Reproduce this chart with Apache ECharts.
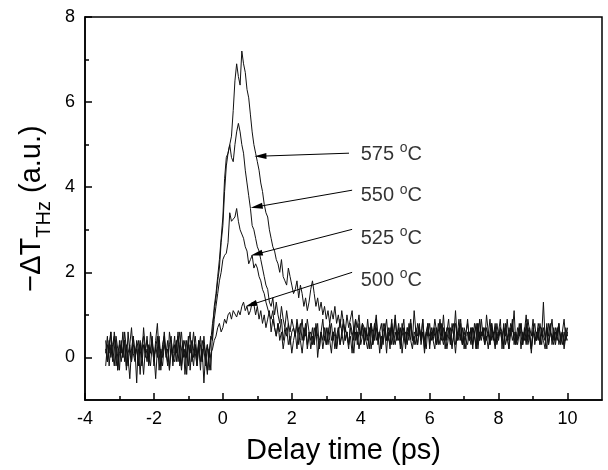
<!DOCTYPE html>
<html>
<head>
<meta charset="utf-8">
<script src="https://cdn.jsdelivr.net/npm/echarts@6/dist/echarts.min.js"></script>
<style>
    html, body { margin: 0; padding: 0; background: #fff; }
    #thz-chart { width: 608px; height: 470px; }
</style>
</head>
<body>
<div id="thz-chart"></div>
<script>
// 时间轴：-3.4 ps 起，步长 0.05 ps（共 269 点，每行 0.5 ps）
var t0 = -3.4, dt = 0.05;

// 各温度下的 -ΔT_THz (a.u.)，从图上读出的估计值
var s575 = [
    0.4,-0.1,0.3,0.6,0.1,-0.2,0.5,0.2,-0.3,0.4,
    0.0,0.6,0.2,-0.2,0.3,0.7,0.1,-0.1,0.4,0.2,
    -0.4,0.3,0.5,0.0,0.2,-0.2,0.6,0.3,-0.1,0.4,
    0.8,0.1,-0.2,0.3,0.5,0.0,0.2,-0.3,0.4,0.1,
    0.5,-0.1,0.3,0.6,-0.2,0.2,0.4,0.0,0.5,-0.3,
    0.2,0.6,0.1,-0.2,0.4,0.3,-0.1,0.5,0.0,-0.4,
    0.2,-0.3,0.6,1.2,1.5,1.9,2.3,2.8,3.3,4.2,
    4.7,4.8,5.0,5.2,5.8,6.5,6.9,6.6,6.4,7.2,
    6.9,6.7,6.3,6.1,5.7,5.3,5.0,4.8,4.6,4.4,
    4.1,3.9,3.6,3.4,3.3,3.0,2.8,2.6,2.5,2.3,
    2.2,2.0,2.3,1.9,1.8,1.7,2.1,1.9,1.7,1.5,
    1.6,1.8,1.4,1.7,1.5,1.2,1.4,1.1,1.3,1.6,
    1.8,1.5,1.2,1.4,1.1,1.3,1.0,1.2,0.9,1.1,
    0.8,1.1,0.9,1.2,0.8,1.0,0.7,1.1,0.8,0.6,
    1.0,0.7,0.9,1.1,0.6,0.9,0.7,1.0,0.5,0.8,
    0.7,0.4,0.9,0.5,0.8,0.3,0.7,1.0,0.5,0.6,
    0.2,0.8,0.6,0.9,0.4,0.7,0.3,0.6,1.0,0.5,
    0.8,0.4,0.6,0.9,0.3,0.7,0.5,0.8,0.4,1.1,
    0.6,0.3,0.7,0.5,0.9,0.4,0.6,0.8,0.2,0.7,
    0.5,0.9,0.6,0.3,0.8,0.5,1.0,0.4,0.7,0.6,
    0.3,0.8,0.5,1.1,0.4,0.6,0.9,0.3,0.7,0.5,
    0.9,0.4,0.7,0.2,0.8,0.6,0.3,0.9,0.5,0.7,
    0.4,1.0,0.6,0.3,0.7,0.5,0.8,0.4,0.6,0.9,
    0.2,0.7,0.5,0.9,0.4,0.8,0.6,1.1,0.3,0.7,
    0.5,0.8,0.3,0.6,1.0,0.4,0.7,0.5,0.9,0.3,
    0.6,0.4,0.8,0.5,1.3,0.4,0.7,0.3,0.6,0.9,
    0.4,0.7,0.5,0.8,0.3,0.6,0.9,0.4,0.6
];
var s550 = [
    0.1,0.5,-0.2,0.3,0.0,0.6,0.2,-0.3,0.4,0.1,
    0.6,-0.1,0.3,0.0,-0.5,0.2,0.5,0.1,0.3,-0.2,
    0.4,0.0,0.7,0.2,-0.1,0.3,0.1,0.5,-0.2,0.3,
    0.0,0.4,-0.3,0.2,0.6,0.1,-0.1,0.3,0.5,-0.2,
    0.3,0.1,0.6,-0.2,0.2,0.4,-0.4,0.1,0.3,0.6,
    -0.1,0.2,0.5,0.0,0.3,-0.3,0.4,0.2,-0.2,0.3,
    0.0,0.4,0.8,1.1,1.4,1.8,2.1,2.7,3.1,3.9,
    4.5,4.8,5.0,4.7,4.6,5.0,5.3,5.5,5.3,5.0,
    4.8,4.4,4.1,3.8,3.5,3.1,3.0,2.8,2.6,2.5,
    2.3,2.1,1.9,1.7,1.6,1.3,1.2,1.4,1.0,1.3,
    1.0,0.8,1.2,0.9,0.7,1.1,0.8,0.6,0.9,0.7,
    0.5,0.9,0.6,0.8,0.4,0.7,0.5,0.9,0.6,0.4,
    0.7,0.3,0.8,0.5,0.2,0.6,0.9,0.4,0.7,0.3,
    0.6,0.8,0.4,0.7,0.2,0.5,0.9,0.6,0.3,0.7,
    0.5,0.2,0.8,0.6,0.4,0.9,0.3,0.6,0.5,0.8,
    0.3,0.7,0.5,0.2,0.8,0.6,0.4,0.9,0.3,0.6,
    0.8,0.4,0.6,0.1,0.7,0.5,0.9,0.3,0.6,0.4,
    0.7,0.2,0.8,0.5,0.3,0.7,0.6,0.9,0.4,0.5,
    0.3,0.8,0.6,0.4,0.9,0.2,0.6,0.5,0.8,0.4,
    0.7,0.5,0.3,0.8,0.6,0.4,0.7,0.2,0.6,0.9,
    0.4,0.6,0.8,0.3,0.5,0.9,0.4,0.7,0.2,0.6,
    0.8,0.5,0.3,0.7,0.6,0.2,0.8,0.4,0.9,0.5,
    0.3,0.7,0.5,0.9,0.4,0.6,0.3,0.8,0.5,0.7,
    0.6,0.2,0.8,0.4,0.7,0.5,0.9,0.3,0.6,0.4,
    0.8,0.5,0.3,0.7,0.4,0.9,0.6,0.2,0.7,0.5,
    0.4,0.8,0.6,0.3,0.7,0.5,0.2,0.8,0.6,0.4,
    0.7,0.3,0.6,0.8,0.4,0.6,0.3,0.7,0.5
];
var s525 = [
    -0.2,0.3,0.1,0.6,-0.1,0.2,0.4,-0.3,0.1,0.3,
    0.0,0.4,-0.2,0.6,0.1,-0.1,0.3,0.2,-0.6,0.4,
    0.2,-0.2,0.3,0.1,0.5,-0.1,0.2,0.4,0.0,0.2,
    0.5,-0.3,0.2,0.0,0.4,0.1,-0.2,0.6,0.3,-0.1,
    0.1,0.4,-0.1,0.3,0.6,0.0,0.2,-0.4,0.3,0.1,
    0.4,0.0,0.3,-0.2,0.2,0.5,-0.1,0.3,0.1,-0.3,
    0.1,0.5,0.4,0.9,1.2,1.5,1.8,2.0,2.3,2.4,
    2.45,2.7,3.4,3.2,3.25,3.3,3.5,3.2,3.0,2.9,
    2.8,2.6,2.5,2.2,2.3,2.4,2.1,2.2,2.1,1.9,
    1.8,1.6,1.5,1.3,1.3,1.0,0.9,1.1,0.7,0.5,
    0.8,0.4,0.6,0.2,0.5,0.7,0.3,0.5,0.1,0.4,
    0.6,0.2,0.7,0.4,0.1,0.5,0.8,0.3,0.6,0.2,
    0.5,0.3,0.7,0.0,0.4,0.6,0.2,0.5,0.3,0.7,
    0.4,0.1,0.6,0.5,0.2,0.7,0.3,0.5,0.8,0.4,
    0.6,0.3,0.5,0.1,0.7,0.4,0.6,0.2,0.5,0.8,
    0.3,0.6,0.4,0.7,0.2,0.5,0.8,0.4,0.6,0.1,
    0.5,0.3,0.7,0.4,0.6,0.2,0.8,0.5,0.3,0.6,
    0.4,0.7,0.1,0.5,0.6,0.3,0.8,0.4,0.2,0.6,
    0.5,0.3,0.7,0.4,0.6,0.1,0.5,0.8,0.3,0.6,
    0.4,0.2,0.7,0.5,0.3,0.8,0.4,0.6,0.2,0.5,
    0.7,0.3,0.5,0.1,0.6,0.4,0.8,0.3,0.5,0.2,
    0.6,0.4,0.7,0.3,0.5,0.8,0.2,0.6,0.4,0.7,
    0.3,0.5,0.2,0.6,0.8,0.4,0.7,0.3,0.5,0.6,
    0.4,0.8,0.3,0.5,0.2,0.7,0.4,0.6,0.3,0.5,
    0.7,0.2,0.6,0.4,0.8,0.3,0.5,0.1,0.6,0.4,
    0.5,0.7,0.3,0.6,0.4,0.2,0.7,0.5,0.8,0.3,
    0.6,0.4,0.7,0.3,0.5,0.6,0.2,0.5,0.4
];
var s500 = [
    0.2,-0.1,0.4,0.0,0.3,0.5,-0.2,0.1,0.3,-0.1,
    0.2,0.4,-0.3,0.1,0.3,-0.1,0.5,0.0,0.2,-0.2,
    0.3,0.1,-0.4,0.2,0.4,0.0,-0.2,0.3,0.1,-0.5,
    0.2,0.5,0.0,-0.2,0.3,0.1,0.4,-0.3,0.2,0.0,
    -0.1,0.3,0.5,0.1,-0.3,0.2,0.0,0.4,-0.2,0.3,
    0.1,-0.2,0.3,0.0,0.4,-0.1,0.2,-0.6,0.1,0.3,
    -0.3,0.1,0.2,0.4,0.5,0.7,0.8,0.6,0.7,0.9,
    0.8,1.0,1.06,0.9,1.1,1.13,0.95,1.1,1.0,1.2,
    1.3,1.1,1.2,1.0,1.1,1.3,1.25,1.0,1.2,0.9,
    1.1,0.8,1.0,0.7,0.9,1.1,0.6,0.9,0.7,0.5,
    0.8,0.6,0.9,0.4,0.7,0.5,0.8,0.3,0.6,0.7,
    0.5,0.8,0.3,0.6,0.9,0.4,0.7,0.2,0.5,0.6,
    0.3,0.7,0.5,0.8,0.2,0.6,0.4,0.7,0.3,0.5,
    0.8,0.4,0.6,0.2,0.5,0.7,0.3,0.6,0.9,0.4,
    0.6,0.3,0.7,0.5,0.1,0.6,0.4,0.8,0.3,0.5,
    0.7,0.4,0.2,0.6,0.8,0.3,0.5,0.7,0.4,0.6,
    0.2,0.6,0.8,0.4,0.5,0.3,0.7,0.5,0.9,0.4,
    0.6,0.3,0.5,0.7,0.2,0.6,0.4,0.8,0.5,0.3,
    0.7,0.5,0.8,0.3,0.6,0.4,0.2,0.7,0.5,0.6,
    0.4,0.7,0.3,0.6,0.9,0.5,0.3,0.6,0.4,0.7,
    0.5,0.2,0.6,0.8,0.4,0.7,0.5,0.3,0.6,0.4,
    0.3,0.6,0.4,0.7,0.5,0.2,0.8,0.4,0.6,0.5,
    0.7,0.4,0.6,0.3,0.8,0.5,0.2,0.6,0.4,0.7,
    0.5,0.3,0.7,0.5,0.2,0.6,0.8,0.4,0.5,0.3,
    0.6,0.8,0.4,0.6,0.3,0.7,0.5,0.2,0.6,0.8,
    0.4,0.6,0.3,0.7,0.5,0.4,0.8,0.3,0.6,0.5,
    0.3,0.6,0.4,0.7,0.5,0.3,0.6,0.4,0.7
];

var temps = ['575', '550', '525', '500'];
var xMajor = [-4, -2, 0, 2, 4, 6, 8, 10];
var xMinor = [-3, -1, 1, 3, 5, 7, 9];
var yMajor = [0, 2, 4, 6, 8];
var yMinor = [1, 3, 5, 7];

// 标注：文字位置、箭头起点、箭头终点（数据坐标）
var labelAt = [[4.0, 4.77], [4.0, 3.80], [4.0, 2.80], [4.0, 1.81]];
var arrowFrom = [[3.66, 4.80], [3.75, 3.93], [3.75, 3.01], [3.75, 2.00]];
var arrowTo = [[1.09, 4.73], [0.98, 3.54], [0.98, 2.43], [0.82, 1.24]];

var FONT = '"Liberation Sans", Arial, sans-serif';

function toPairs(vals) {
    return vals.map(function (v, i) { return [+(t0 + i * dt).toFixed(2), v]; });
}

var myChart = echarts.init(document.getElementById('thz-chart'));

var lineSeries = [s575, s550, s525, s500].map(function (vals, k) {
    return {
        name: temps[k] + ' °C',
        type: 'line',
        data: toPairs(vals),
        showSymbol: false,
        symbol: 'none',
        silent: true,
        lineStyle: { color: '#111', width: 1 }
    };
});

// 温度文字 + 箭头
var labelSeries = {
    type: 'scatter',
    silent: true,
    symbolSize: 0,
    data: labelAt.map(function (p, k) { return [p[0], p[1], temps[k]]; }),
    label: {
        show: true,
        position: 'right',
        distance: 0,
        color: '#000',
        fontFamily: FONT,
        fontSize: 20,
        lineHeight: 26,
        formatter: function (p) { return p.data[2] + ' {sup|o}C'; },
        rich: {
            sup: { fontFamily: FONT, fontSize: 14, lineHeight: 14, verticalAlign: 'top', color: '#000' }
        }
    },
    markLine: {
        silent: true,
        animation: false,
        symbol: ['none', 'triangle'],
        symbolSize: [0, 10],
        label: { show: false },
        lineStyle: { color: '#000', width: 1, type: 'solid' },
        emphasis: { disabled: true },
        data: arrowFrom.map(function (a, k) {
            return [{ coord: a }, { coord: arrowTo[k], symbolSize: [6, 12] }];
        })
    }
};

var option = {
    animation: false,
    backgroundColor: '#fff',
    grid: {
        left: 85, right: 6, top: 17, bottom: 70,
        show: true, borderColor: '#000', borderWidth: 1.5
    },
    xAxis: [
        {
            type: 'value', min: -4, max: 11, position: 'bottom',
            name: 'Delay time (ps)', nameLocation: 'middle', nameGap: 36,
            nameTextStyle: { fontFamily: FONT, fontSize: 29, color: '#000' },
            axisLine: { show: true, onZero: false, lineStyle: { color: '#000', width: 1.5 } },
            axisTick: { show: true, inside: true, length: 7, customValues: xMajor, lineStyle: { color: '#000', width: 1.5 } },
            axisLabel: { customValues: xMajor, fontFamily: FONT, fontSize: 18, color: '#000', margin: 10 },
            splitLine: { show: false }
        },
        {
            type: 'value', min: -4, max: 11, position: 'bottom',
            axisLine: { show: false, onZero: false },
            axisTick: { show: true, inside: true, length: 4, customValues: xMinor, lineStyle: { color: '#000', width: 1.5 } },
            axisLabel: { show: false },
            splitLine: { show: false }
        }
    ],
    yAxis: [
        {
            type: 'value', min: -1, max: 8, position: 'left',
            name: '−ΔT{sub|THz} (a.u.)', nameLocation: 'middle', nameGap: 30,
            nameTextStyle: {
                fontFamily: FONT, fontSize: 29, color: '#000', lineHeight: 44,
                rich: {
                    sub: { fontFamily: FONT, fontSize: 20, lineHeight: 20, verticalAlign: 'bottom', color: '#000' }
                }
            },
            axisLine: { show: true, onZero: false, lineStyle: { color: '#000', width: 1.5 } },
            axisTick: { show: true, inside: true, length: 7, customValues: yMajor, lineStyle: { color: '#000', width: 1.5 } },
            axisLabel: { customValues: yMajor, fontFamily: FONT, fontSize: 18, color: '#000', margin: 10 },
            splitLine: { show: false }
        },
        {
            type: 'value', min: -1, max: 8, position: 'left',
            axisLine: { show: false, onZero: false },
            axisTick: { show: true, inside: true, length: 4, customValues: yMinor, lineStyle: { color: '#000', width: 1.5 } },
            axisLabel: { show: false },
            splitLine: { show: false }
        }
    ],
    series: lineSeries.concat([labelSeries])
};

myChart.setOption(option);
</script>
</body>
</html>
